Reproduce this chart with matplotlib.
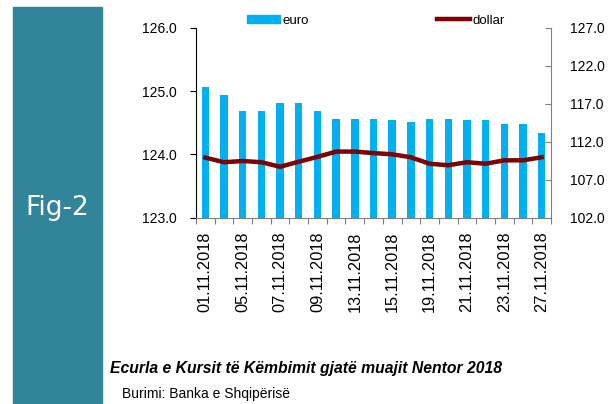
import matplotlib.pyplot as plt
import matplotlib.patches as mpatches
import numpy as np

dates = ['01.11.2018', '02.11.2018', '05.11.2018', '06.11.2018', '07.11.2018',
         '08.11.2018', '09.11.2018', '12.11.2018', '13.11.2018', '14.11.2018',
         '15.11.2018', '16.11.2018', '19.11.2018', '20.11.2018', '21.11.2018',
         '22.11.2018', '23.11.2018', '26.11.2018', '27.11.2018']
euro = [125.06, 124.94, 124.68, 124.68, 124.81, 124.81, 124.68, 124.56, 124.56, 124.56,
        124.54, 124.51, 124.56, 124.56, 124.54, 124.54, 124.48, 124.48, 124.34]
dollar = [109.9, 109.3, 109.46, 109.3, 108.7, 109.37, 110.0, 110.7, 110.7, 110.5,
          110.34, 109.95, 109.1, 108.9, 109.3, 109.1, 109.55, 109.55, 109.95]

font = 'Liberation Sans'

fig = plt.figure(figsize=(6.13, 4.04), dpi=100)

# teal side panel
fig.patches.append(mpatches.Rectangle((13/613, 0), 89/613, 1 - 7/404,
                                      transform=fig.transFigure, color='#31859A', zorder=0))
fig.text(57/613, 1 - 208/404, 'Fig-2', color='white', fontsize=19, ha='center', va='center',
         family='DejaVu Sans')

ax = fig.add_axes([196/613, 1 - 217.7/404, (551 - 196)/613, 190/404])
x = np.arange(len(dates))
ax.bar(x, euro, width=0.4, color='#00B0F0', label='euro', zorder=2)
ax.set_ylim(123, 126)
ax.set_xlim(-0.5, len(dates) - 0.5)
ax.set_yticks([123, 124, 125, 126])
ax.set_yticklabels(['%.1f' % v for v in [123, 124, 125, 126]], family=font, fontsize=10)
ax.tick_params(axis='y', length=4, pad=10)
ax.set_xticks(np.arange(-0.5, len(dates), 1))
ax.set_xticklabels([])
ax.set_xticks(x[::2], minor=True)
ax.set_xticklabels(dates[::2], minor=True, rotation=90, fontsize=11.8, family=font)
ax.tick_params(axis='x', which='minor', length=0, pad=10)
ax.tick_params(axis='x', which='major', length=4, color='#808080')
ax.spines['top'].set_visible(False)
ax.spines['right'].set_visible(False)
ax.spines['bottom'].set_color('#808080')
ax.spines['left'].set_color('black')

ax2 = ax.twinx()
ax2.plot(x, dollar, color='#7F0000', lw=3.2, label='dollar', zorder=3)
ax2.set_ylim(102, 127)
ax2.set_yticks(np.arange(102, 128, 5))
ax2.set_yticklabels(['%.1f' % v for v in np.arange(102, 128, 5)], family=font, fontsize=10)
ax2.tick_params(axis='y', direction='in', length=4, color='#808080', pad=14)
ax2.spines['top'].set_visible(False)
ax2.spines['left'].set_visible(False)
ax2.spines['bottom'].set_visible(False)
ax2.spines['right'].set_color('#808080')

fig.legend(handles=[mpatches.Patch(color='#00B0F0', label='euro')], loc='center left',
           bbox_to_anchor=(247/613, 1 - 21/404), frameon=False, handlelength=2.5,
           handleheight=0.55, borderpad=0, borderaxespad=0, handletextpad=0.2,
           prop={'family': font, 'size': 9.5})
fig.legend(handles=[plt.Line2D([], [], color='#7F0000', lw=3.2, label='dollar')],
           loc='center left', bbox_to_anchor=(437/613, 1 - 21/404), frameon=False,
           handlelength=2.5, borderpad=0, borderaxespad=0, handletextpad=0.2,
           prop={'family': font, 'size': 9.5})

fig.text(110/613, 1 - 369/404, 'Ecurla e Kursit të Këmbimit gjatë muajit Nentor 2018',
         fontsize=11.3, style='italic', weight='bold', family=font, va='center')
fig.text(122/613, 1 - 394/404, 'Burimi: Banka e Shqipërisë', fontsize=10,
         family=font, va='center')

fig.savefig('out.png', dpi=100)
